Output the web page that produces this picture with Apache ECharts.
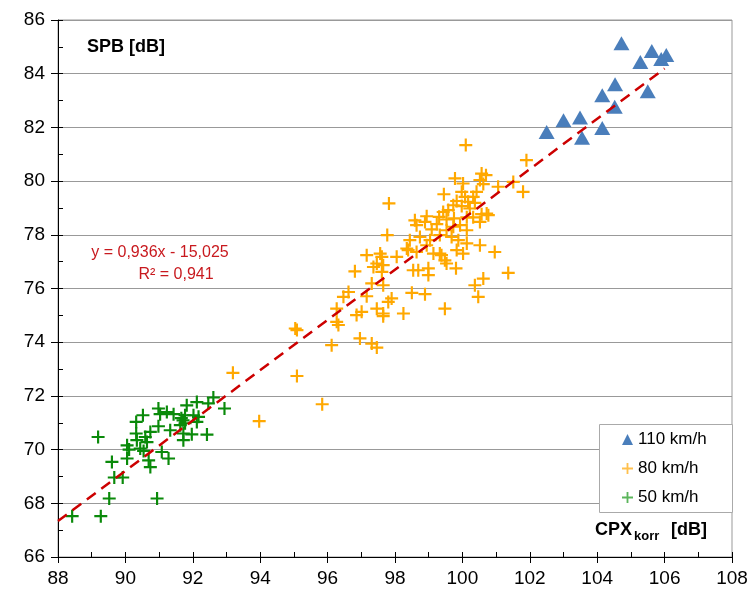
<!DOCTYPE html>
<html>
<head>
<meta charset="utf-8">
<script src="https://cdn.jsdelivr.net/npm/echarts@6/dist/echarts.min.js"></script>
<style>html,body{margin:0;padding:0;background:#fff}#c{width:751px;height:595px}</style>
</head>
<body>
<div id="c"></div>
<script>
// ---- data ----
const xTicks = [88, 90, 92, 94, 96, 98, 100, 102, 104, 106, 108];
const yTicks = [66, 68, 70, 72, 74, 76, 78, 80, 82, 84, 86];
const seriesNames = ['110 km/h', '80 km/h', '50 km/h'];

const cpx110 = [104.72, 105.62, 105.28, 105.9, 106.05, 104.53, 105.5, 104.15, 104.52, 103.0, 103.49, 104.15, 102.5, 103.55];
const spb110 = [85.13, 84.85, 84.44, 84.55, 84.7, 83.61, 83.35, 83.2, 82.77, 82.27, 82.37, 81.98, 81.83, 81.61];

const cpx80 = [100.10, 99.78, 100.57, 100.70, 100.52, 100.62, 99.45, 100.02, 99.98, 100.08, 99.83, 100.17, 100.37, 100.22, 99.98, 99.73, 99.58, 99.43, 99.31, 99.53,
  99.75, 100.13, 100.32, 100.57, 100.77, 100.42, 100.32, 97.82, 97.77, 100.96, 100.52, 98.59, 98.94, 98.89, 98.64, 99.24, 99.09, 98.44, 98.74, 99.04,
  99.53, 99.73, 99.93, 100.13, 99.33, 99.68, 99.88, 100.13, 98.35, 98.64, 98.94, 99.33, 99.83, 97.16, 97.56, 97.65, 98.05, 98.39, 98.54, 98.69,
  98.99, 98.99, 99.14, 99.38, 99.48, 99.53, 99.81, 100.02, 101.36, 100.62, 100.37, 100.47, 98.50, 98.89, 97.90, 97.80, 99.48, 98.25, 97.65, 101.90,
  101.51, 101.80, 101.06, 100.72, 100.52, 97.61, 97.46, 97.36, 97.61, 96.81, 97.31, 97.65, 96.62, 96.47, 97.16, 96.27, 97.46, 97.01, 96.86, 97.65,
  96.27, 96.32, 95.09, 95.04, 96.96, 96.12, 97.31, 97.46, 93.19, 95.09, 93.97, 95.84];
const spb80 = [81.34, 80.10, 80.28, 80.22, 80.04, 79.89, 79.51, 79.91, 79.60, 79.41, 79.26, 79.23, 79.19, 78.98, 79.07, 79.10, 78.92, 78.85, 78.67, 78.57,
  78.61, 78.65, 78.65, 78.77, 78.73, 79.60, 79.41, 79.17, 77.99, 77.36, 77.61, 78.54, 78.69, 78.48, 78.36, 78.40, 78.20, 77.80, 77.92, 77.80,
  78.17, 78.30, 78.36, 78.17, 77.99, 77.92, 77.80, 77.68, 77.49, 77.36, 77.61, 77.30, 77.43, 77.24, 77.30, 76.87, 77.18, 77.43, 76.68, 76.68,
  76.75, 76.50, 77.30, 77.24, 77.05, 76.93, 76.75, 77.30, 76.58, 76.37, 76.12, 75.69, 75.84, 75.79, 75.63, 75.50, 75.25, 75.07, 75.07, 80.78,
  79.97, 79.60, 79.79, 78.79, 78.48, 77.18, 76.93, 76.80, 76.62, 76.64, 76.19, 76.12, 75.87, 75.69, 75.71, 75.25, 75.25, 75.13, 75.01, 74.97,
  74.76, 74.64, 74.45, 74.51, 74.14, 73.89, 73.95, 73.80, 72.86, 72.74, 71.06, 71.69];

const cpx50 = [92.61, 92.12, 92.46, 91.82, 92.94, 90.98, 91.23, 91.03, 91.43, 91.77, 90.52, 92.02, 91.71, 91.66, 91.77, 91.63, 92.17, 90.32, 92.12, 90.98,
  91.33, 90.74, 90.32, 89.19, 92.42, 91.97, 91.72, 91.72, 90.59, 90.34, 90.64, 90.05, 90.44, 90.11, 90.54, 91.08, 90.05, 91.28, 90.69, 89.60,
  90.74, 89.67, 89.92, 89.52, 90.94, 88.42, 89.27];
const spb50 = [71.94, 71.77, 71.72, 71.65, 71.53, 71.53, 71.40, 71.32, 71.32, 71.28, 71.28, 71.28, 71.09, 71.17, 70.98, 70.91, 71.22, 71.03, 71.03, 70.87,
  70.72, 70.66, 70.60, 70.47, 70.56, 70.57, 70.60, 70.35, 70.47, 70.35, 70.28, 70.16, 70.04, 70.00, 69.95, 69.91, 69.67, 69.67, 69.60, 69.54,
  69.35, 68.96, 68.96, 68.18, 68.18, 67.52, 67.52];

const trendX = [88, 106];
const trendY = [67.34, 84.19];
const eqLine1 = 'y = 0,936x - 15,025';
const eqLine2 = 'R² = 0,941';

// ---- chart ----
const zip = (a, b) => a.map((v, i) => [v, b[i]]);
const PLUS = 'path://M5,0H7V5H12V7H7V12H5V7H0V5H5Z';
const FONT = '"Liberation Sans", Arial, sans-serif';
const BLUE = '#4A7EBB', ORANGE = '#FFA800', GREEN = '#0A8A0A';

const chart = echarts.init(document.getElementById('c'), null, {renderer: 'canvas'});
chart.setOption({
  animation: false,
  backgroundColor: '#fff',
  textStyle: {fontFamily: FONT},
  grid: {left: 58, right: 19, top: 20, bottom: 38, show: true, borderColor: '#999', borderWidth: 1, backgroundColor: 'transparent'},
  xAxis: [
    {type: 'value', min: xTicks[0], max: xTicks[xTicks.length - 1], interval: 2,
      axisLine: {show: true, onZero: false, lineStyle: {color: '#000', width: 1}},
      axisTick: {show: true, length: 6, lineStyle: {color: '#000'}},
      splitLine: {show: false},
      axisLabel: {fontSize: 19, color: '#000', margin: 12, fontFamily: FONT}},
    {type: 'value', position: 'bottom', min: xTicks[0], max: xTicks[xTicks.length - 1], interval: 1,
      axisLine: {show: false, onZero: false},
      axisTick: {show: true, inside: true, length: 5, lineStyle: {color: '#000'}},
      splitLine: {show: false}, axisLabel: {show: false}}
  ],
  yAxis: [
    {type: 'value', min: yTicks[0], max: yTicks[yTicks.length - 1], interval: 2,
      axisLine: {show: true, onZero: false, lineStyle: {color: '#000', width: 1}},
      axisTick: {show: true, length: 7, lineStyle: {color: '#000'}},
      splitLine: {show: true, lineStyle: {color: '#999', width: 1}},
      axisLabel: {fontSize: 19, color: '#000', margin: 13, fontFamily: FONT}},
    {type: 'value', position: 'left', min: yTicks[0], max: yTicks[yTicks.length - 1], interval: 1,
      axisLine: {show: false, onZero: false},
      axisTick: {show: true, inside: true, length: 5, lineStyle: {color: '#000'}},
      splitLine: {show: false}, axisLabel: {show: false}}
  ],
  legend: {
    orient: 'vertical', left: 622, top: 431, padding: 0, itemGap: 12,
    itemWidth: 11, itemHeight: 11, z: 30, zlevel: 0,
    textStyle: {fontSize: 17, color: '#000', fontFamily: FONT},
    data: [
      {name: seriesNames[0], icon: 'triangle', itemStyle: {color: BLUE}},
      {name: seriesNames[1], icon: PLUS, itemStyle: {color: '#FFC04D'}},
      {name: seriesNames[2], icon: PLUS, itemStyle: {color: '#5BB55B'}}
    ]
  },
  graphic: [
    {type: 'rect', z: 20, shape: {x: 599.5, y: 424.5, width: 133, height: 88},
      style: {fill: '#fff', stroke: '#aaa', lineWidth: 1}},
    {type: 'text', z: 20, left: 87, top: 38, style: {text: 'SPB [dB]', font: 'bold 18px ' + FONT, fill: '#000'}},
    {type: 'text', z: 20, left: 595, top: 521, style: {text: 'CPX', font: 'bold 18px ' + FONT, fill: '#000'}},
    {type: 'text', z: 20, left: 634, top: 530, style: {text: 'korr', font: 'bold 13px ' + FONT, fill: '#000'}},
    {type: 'text', z: 20, left: 666, top: 521, style: {text: ' [dB]', font: 'bold 18px ' + FONT, fill: '#000'}},
    {type: 'text', z: 20, x: 160, y: 253, style: {text: eqLine1, font: '16px ' + FONT, fill: '#C8191E', align: 'center', verticalAlign: 'middle'}},
    {type: 'text', z: 20, x: 176, y: 275, style: {text: eqLine2, font: '16px ' + FONT, fill: '#C8191E', align: 'center', verticalAlign: 'middle'}}
  ],
  series: [
    {name: seriesNames[0], type: 'scatter', data: zip(cpx110, spb110), symbol: 'triangle', symbolSize: [16, 14],
      itemStyle: {color: BLUE, opacity: 1}, z: 3},
    {name: seriesNames[1], type: 'scatter', data: zip(cpx80, spb80), symbol: PLUS, symbolSize: 13,
      itemStyle: {color: ORANGE, opacity: 1}, z: 3},
    {name: seriesNames[2], type: 'scatter', data: zip(cpx50, spb50), symbol: PLUS, symbolSize: 13,
      itemStyle: {color: GREEN, opacity: 1}, z: 3},
    {name: 'trend', type: 'line', data: zip(trendX, trendY), symbol: 'none', silent: true, z: 4,
      lineStyle: {color: '#CC0000', width: 2.5, type: [11, 7]}}
  ]
});
</script>
</body>
</html>
